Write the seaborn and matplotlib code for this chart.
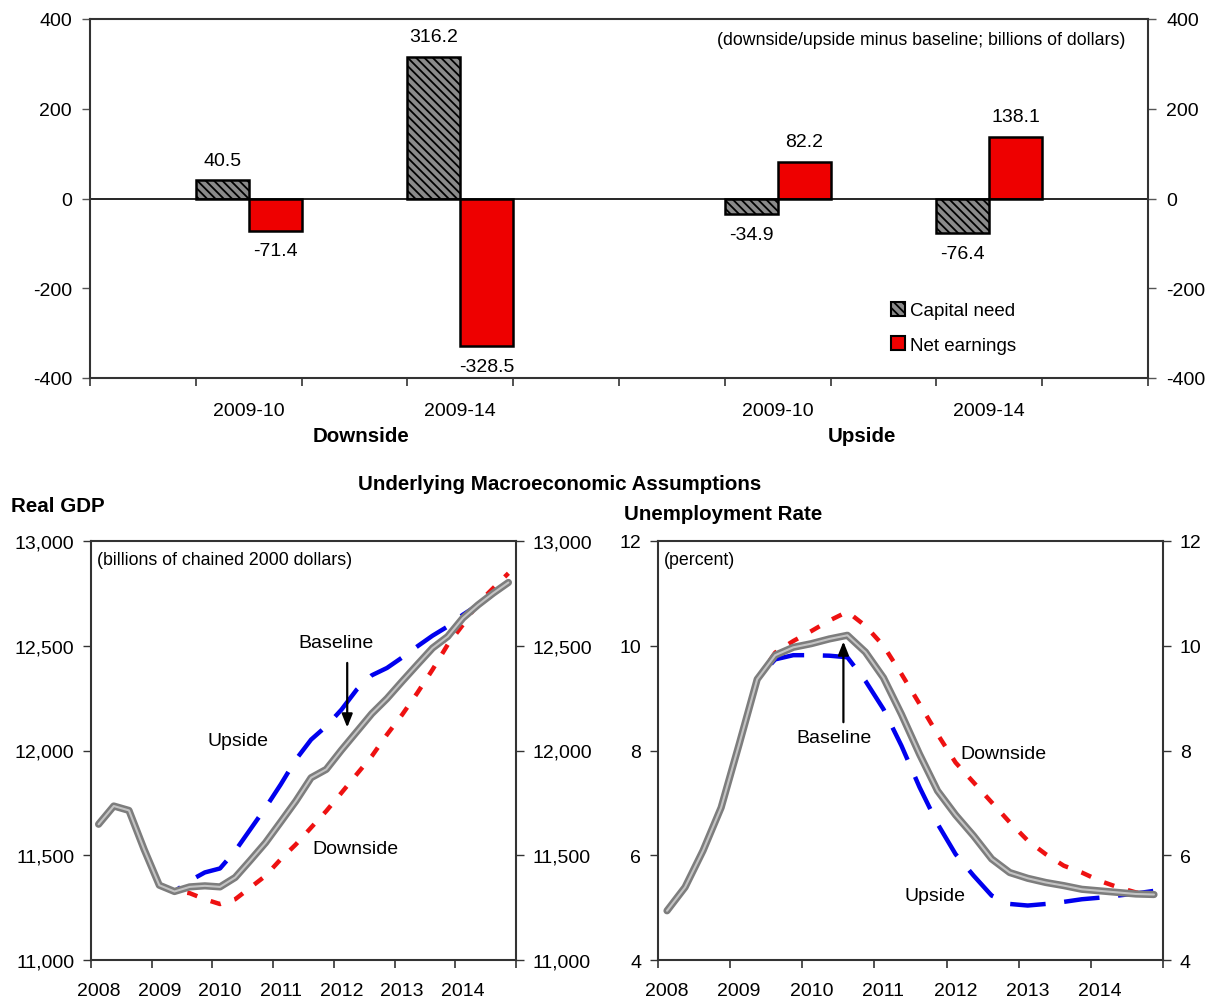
import matplotlib
matplotlib.use("Agg")
import matplotlib.pyplot as plt
import matplotlib.patheffects as pe
from matplotlib.patches import Patch
from matplotlib.ticker import FuncFormatter
import seaborn as sns
import pandas as pd
import numpy as np

# ---------------- data ----------------
categories = ["2009-10", "2009-14", "2009-10", "2009-14"]
scenario_groups = ["Downside", "Upside"]
capital_need = [40.5, 316.2, -34.9, -76.4]
net_earnings = [-71.4, -328.5, 82.2, 138.1]

quarters = [f"{y}Q{q}" for y in range(2008, 2015) for q in range(1, 5)]

gdp_baseline = [11648, 11735, 11714, 11528, 11357, 11327, 11349, 11354, 11349, 11394,
                11476, 11560, 11659, 11759, 11870, 11910, 12002, 12089, 12176, 12248,
                12330, 12410, 12489, 12544, 12632, 12695, 12751, 12802]
gdp_upside = [11648, 11735, 11714, 11528, 11357, 11327, 11378, 11418, 11437, 11521,
              11624, 11727, 11838, 11957, 12052, 12116, 12195, 12290, 12359, 12394,
              12444, 12497, 12548, 12592, 12648, 12695, 12745, 12800]
gdp_downside = [11648, 11735, 11714, 11528, 11357, 11330, 11319, 11290, 11267, 11290,
                11346, 11402, 11481, 11552, 11632, 11711, 11798, 11886, 11973, 12076,
                12171, 12275, 12386, 12505, 12600, 12703, 12775, 12846]

ur_baseline = [4.94, 5.39, 6.09, 6.91, 8.12, 9.36, 9.82, 9.97, 10.04, 10.13,
               10.20, 9.88, 9.39, 8.69, 7.93, 7.23, 6.77, 6.37, 5.93, 5.67,
               5.56, 5.48, 5.42, 5.35, 5.32, 5.29, 5.26, 5.25]
ur_downside = [4.94, 5.39, 6.09, 6.91, 8.12, 9.36, 9.87, 10.09, 10.28, 10.48,
               10.65, 10.38, 10.00, 9.46, 8.89, 8.31, 7.77, 7.39, 7.01, 6.63,
               6.28, 6.02, 5.80, 5.67, 5.51, 5.39, 5.29, 5.25]
ur_upside = [4.94, 5.39, 6.09, 6.91, 8.12, 9.36, 9.74, 9.82, 9.82, 9.81,
             9.78, 9.33, 8.79, 8.09, 7.30, 6.60, 6.02, 5.61, 5.23, 5.07,
             5.04, 5.07, 5.11, 5.16, 5.19, 5.23, 5.27, 5.32]

# ---------------- style ----------------
sns.set_style("white")
plt.rcParams["font.family"] = ["Liberation Sans", "DejaVu Sans"]
plt.rcParams["axes.unicode_minus"] = False
plt.rcParams["hatch.linewidth"] = 1.3
for k in ["text.color", "xtick.color", "ytick.color", "axes.labelcolor"]:
    plt.rcParams[k] = "black"

FS = 14
FS_BOLD = 14.8
FS_NOTE = 12.8
W, H = 1215, 1003
fig = plt.figure(figsize=(W / 100, H / 100), dpi=100)


def box(l, t, r, b):
    return [l / W, 1 - b / H, (r - l) / W, (b - t) / H]


ax_top = fig.add_axes(box(90, 20, 1148, 379))
ax_gdp = fig.add_axes(box(91, 542, 516, 961))
ax_ur = fig.add_axes(box(658, 542, 1163, 961))

# ---------------- top bar chart ----------------
slot_pos = [1, 3, 6, 8]
group_pos = [2.06, 6.8]
df_bar = pd.DataFrame({
    "pos": slot_pos * 2,
    "value": capital_need + net_earnings,
    "series": ["Capital need"] * 4 + ["Net earnings"] * 4,
})
gray_face = "#8a8a8a"
red_face = "#ee0000"
sns.barplot(data=df_bar, x="pos", y="value", hue="series", native_scale=True,
            width=0.5, gap=0, dodge=True, errorbar=None,
            palette={"Capital need": gray_face, "Net earnings": red_face},
            edgecolor="black", linewidth=1.8, saturation=1, legend=False, ax=ax_top)
hatch = "\\\\\\\\"
for p in ax_top.containers[0]:
    p.set_hatch(hatch)
for cont in ax_top.containers:
    ax_top.bar_label(cont, fmt="%.1f", padding=8.5, fontsize=FS)

ax_top.axhline(0, color="black", lw=1.2, zorder=1)
ax_top.set_xlim(-0.5, 9.5)
ax_top.set_ylim(-400, 400)
ax_top.set_yticks([-400, -200, 0, 200, 400])
ax_top.set_xticks(np.arange(-0.5, 10, 1.0))
ax_top.set_xticklabels([])
ax_top.set_xticks(slot_pos, minor=True)
ax_top.set_xticklabels(categories, minor=True)
ax_top.tick_params(axis="x", which="major", direction="out", length=6, width=1.2,
                   color="#333333", bottom=True)
ax_top.tick_params(axis="x", which="minor", length=0, pad=17, labelsize=FS)
ax_top.tick_params(axis="y", direction="out", length=6, width=1.0, color="#555555",
                   left=True, right=True, labelleft=True, labelright=True,
                   labelsize=FS, pad=7)
ax_top.set_xlabel("")
ax_top.set_ylabel("")
for s in ax_top.spines.values():
    s.set_color("#333333")
    s.set_linewidth(1.5)
for gp, g in zip(group_pos, scenario_groups):
    ax_top.text(gp, -0.159, g, transform=ax_top.get_xaxis_transform(), ha="center",
                va="center", fontsize=FS_BOLD, fontweight="bold")
ax_top.text(0.979, 0.944, "(downside/upside minus baseline; billions of dollars)",
            transform=ax_top.transAxes, ha="right", va="center", fontsize=FS_NOTE)
handles = [Patch(facecolor=gray_face, edgecolor="black", hatch=hatch, linewidth=1.5),
           Patch(facecolor=red_face, edgecolor="black", linewidth=1.5)]
ax_top.legend(handles, ["Capital need", "Net earnings"], loc="center left",
              bbox_to_anchor=(0.748, 0.14), frameon=False, fontsize=FS - 0.5,
              handlelength=0.75, handleheight=0.75, handletextpad=0.3,
              labelspacing=0.9, borderpad=0)

# ---------------- line charts ----------------
qx = [int(q[:4]) + (int(q[-1]) - 1) * 0.25 + 0.125 for q in quarters]

base_fx = [pe.Stroke(linewidth=5.2, foreground="#7d7d7d"), pe.Normal()]
arrow_kw = dict(arrowstyle="-|>,head_length=0.8,head_width=0.32",
                color="black", lw=1.6, shrinkA=0, shrinkB=0)


def draw_lines(ax, base, up, down):
    sns.lineplot(x=qx, y=down, ax=ax, color="#ee1111", lw=3.2,
                 linestyle=(0, (2.4, 3.2)))
    sns.lineplot(x=qx, y=up, ax=ax, color="#0000ee", lw=3.2,
                 linestyle=(0, (8, 4.2)))
    sns.lineplot(x=qx, y=base, ax=ax, color="#c4c4c4", lw=1.5,
                 path_effects=base_fx)
    ax.set_xlim(2008, 2015)
    ax.set_xticks(range(2008, 2016))
    ax.set_xticklabels([])
    ax.set_xticks([y + 0.125 for y in range(2008, 2015)], minor=True)
    ax.set_xticklabels([str(y) for y in range(2008, 2015)], minor=True)
    ax.tick_params(axis="x", which="major", direction="out", length=6, width=1.2,
                   color="#333333", bottom=True)
    ax.tick_params(axis="x", which="minor", length=0, pad=16, labelsize=FS)
    ax.tick_params(axis="y", direction="out", length=6, width=1.0, color="#333333",
                   left=True, right=True, labelleft=True, labelright=True,
                   labelsize=FS, pad=6)
    ax.set_xlabel("")
    ax.set_ylabel("")
    for s in ax.spines.values():
        s.set_color("#333333")
        s.set_linewidth(1.5)


draw_lines(ax_gdp, gdp_baseline, gdp_upside, gdp_downside)
ax_gdp.set_ylim(11000, 13000)
ax_gdp.set_yticks([11000, 11500, 12000, 12500, 13000])
ax_gdp.yaxis.set_major_formatter(FuncFormatter(lambda v, p: f"{v:,.0f}"))
ax_gdp.text(0.013, 0.957, "(billions of chained 2000 dollars)", transform=ax_gdp.transAxes,
            ha="left", va="center", fontsize=FS_NOTE)
ax_gdp.text(2010.42, 12048, "Upside", ha="center", va="center", fontsize=FS)
ax_gdp.text(2012.04, 12514, "Baseline", ha="center", va="center", fontsize=FS)
ax_gdp.text(2012.35, 11533, "Downside", ha="center", va="center", fontsize=FS)
ax_gdp.annotate("", xy=(2012.22, 12110), xytext=(2012.22, 12418), arrowprops=arrow_kw)

draw_lines(ax_ur, ur_baseline, ur_upside, ur_downside)
ax_ur.set_ylim(4, 12)
ax_ur.set_yticks([4, 6, 8, 10, 12])
ax_ur.text(0.011, 0.957, "(percent)", transform=ax_ur.transAxes,
           ha="left", va="center", fontsize=FS_NOTE)
ax_ur.text(2010.445, 8.24, "Baseline", ha="center", va="center", fontsize=FS)
ax_ur.text(2012.79, 7.95, "Downside", ha="center", va="center", fontsize=FS)
ax_ur.text(2011.84, 5.23, "Upside", ha="center", va="center", fontsize=FS)
ax_ur.annotate("", xy=(2010.57, 10.08), xytext=(2010.57, 8.54), arrowprops=arrow_kw)

fig.text(560 / W, 1 - 485 / H, "Underlying Macroeconomic Assumptions", ha="center",
         va="center", fontsize=FS_BOLD, fontweight="bold")
fig.text(11 / W, 1 - 507 / H, "Real GDP", ha="left", va="center", fontsize=FS_BOLD,
         fontweight="bold")
fig.text(624 / W, 1 - 514 / H, "Unemployment Rate", ha="left", va="center",
         fontsize=FS_BOLD, fontweight="bold")

fig.savefig("out.png", dpi=100)
